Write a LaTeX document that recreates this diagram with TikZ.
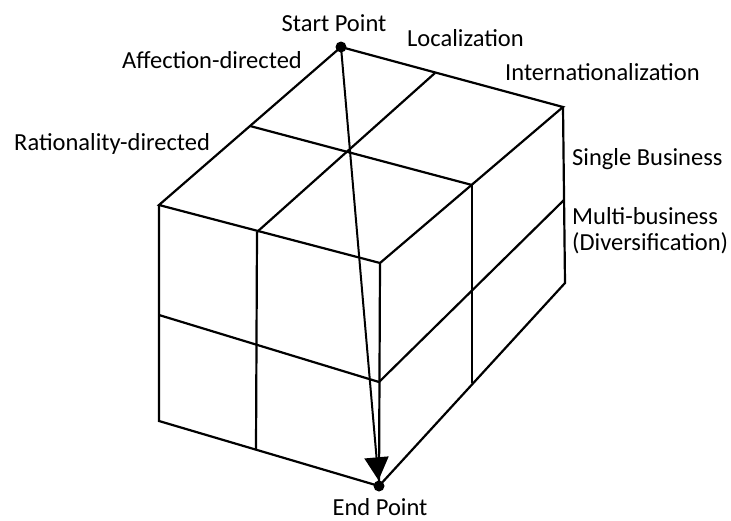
\documentclass[tikz,border=0pt]{standalone}
\usepackage{fontspec}
\setmainfont{Carlito}
\usetikzlibrary{arrows.meta}
\begin{document}
\begin{tikzpicture}[x=1pt,y=-1pt,
  edge/.style={line width=2.2pt, line join=miter},
  lbl/.style={inner sep=0pt, font=\fontsize{24.5}{26}\selectfont},
  dot/.style={circle, fill=black, draw=none, inner sep=0pt, minimum size=11pt}]
\useasboundingbox (0,0) rectangle (731,520);
% corner points
\coordinate (A)  at (159,205);
\coordinate (B)  at (563,107);
\coordinate (F)  at (380,263);
\coordinate (Ab) at (159,421);
\coordinate (Bb) at (565,283);
% grid points
\coordinate (SAm) at (250,126);
\coordinate (BFm) at (472,185);
\coordinate (SBm) at (435,73);
\coordinate (AFm) at (257,232);
\coordinate (AFmb) at (256,450);
\coordinate (Am)  at (159,315);
\coordinate (Fm)  at (379,382);
\coordinate (Bm)  at (564,200);
\coordinate (BFmb) at (472,383);
% dots
\node[dot] (start) at (341,47) {};
\node[dot] (end)   at (379,486) {};
% top face
\draw[edge] (start.center) -- (B) -- (F) -- (A) -- cycle;
\draw[edge] (SAm) -- (BFm);
\draw[edge] (SBm) -- (AFm);
% left face
\draw[edge] (A) -- (Ab) -- (end.center) -- (F);
\draw[edge] (AFm) -- (AFmb);
\draw[edge] (Am) -- (Fm);
% right face
\draw[edge] (end.center) -- (Bb) -- (B);
\draw[edge] (BFm) -- (BFmb);
\draw[edge] (Fm) -- (Bm);
% arrow
\draw[line width=2pt, -{Triangle[length=23pt,width=24pt]}] (start.center) -- (end);
% labels
\node[lbl, anchor=base] (lstart) at (334,31) {Start Point};
\node[lbl, anchor=base west] (lloc) at (407,46) {Localization};
\node[lbl, anchor=base west] (laff) at (122,68) {Affection-directed};
\node[lbl, anchor=base west] (lrat) at (14,150) {Rationality-directed};
\node[lbl, anchor=base west] (lint) at (505,80) {Internationalization};
\node[lbl, anchor=base west] (lsin) at (572,165) {Single Business};
\node[lbl, anchor=base west] (lmul) at (572,224) {Multi-business};
\node[lbl, anchor=base west] (ldiv) at (572,250) {(Diversification)};
\node[lbl, anchor=base] (lend) at (380,515) {End Point};
\end{tikzpicture}
\end{document}
